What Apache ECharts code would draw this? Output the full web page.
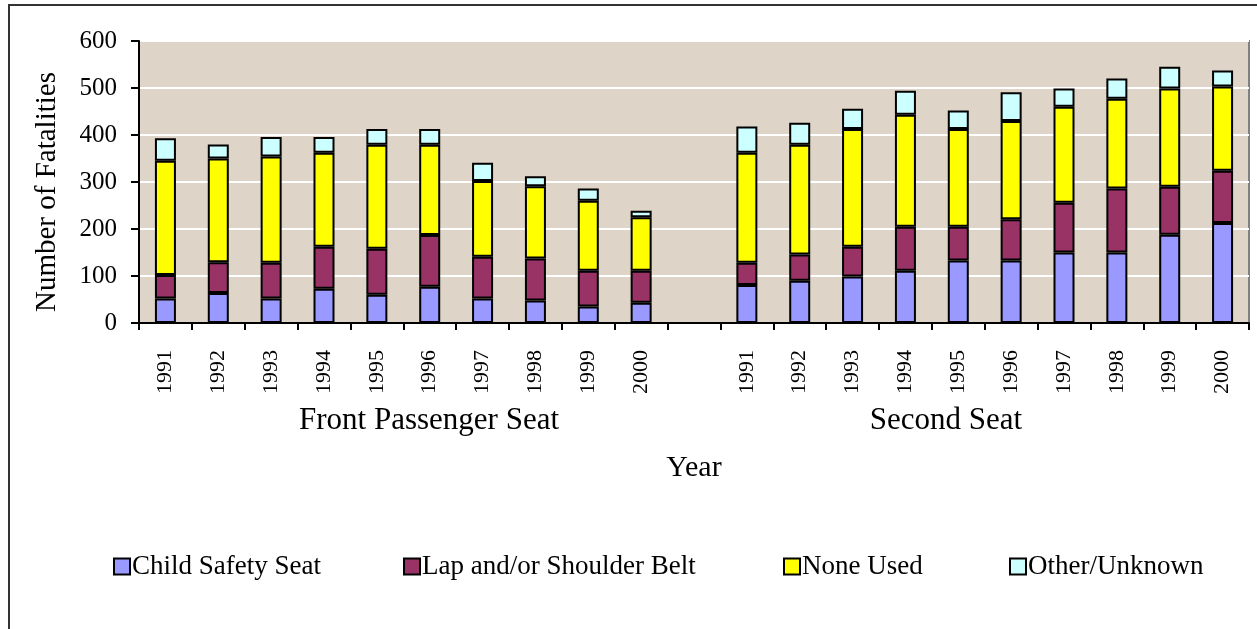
<!DOCTYPE html>
<html>
<head>
<meta charset="utf-8">
<script src="https://cdn.jsdelivr.net/npm/echarts@6/dist/echarts.min.js"></script>
<style>
  html, body { margin: 0; padding: 0; background: #fff; }
  #chart { width: 1257px; height: 629px; }
</style>
</head>
<body>
<div id="chart"></div>
<script>
  // years for each seat group
  var years = ['1991', '1992', '1993', '1994', '1995', '1996', '1997', '1998', '1999', '2000'];
  var groupNames = ['Front Passenger Seat', 'Second Seat'];
  var seriesNames = ['Child Safety Seat', 'Lap and/or Shoulder Belt', 'None Used', 'Other/Unknown'];

  // front passenger seat
  var childFront = [52, 64, 52, 73, 60, 77, 52, 48, 35, 43];
  var lapFront = [50, 65, 76, 89, 98, 110, 89, 89, 76, 68];
  var noneFront = [243, 221, 226, 200, 221, 192, 161, 154, 149, 114];
  var otherFront = [48, 30, 42, 34, 34, 34, 39, 21, 26, 14];

  // second seat
  var childSecond = [81, 90, 99, 111, 133, 133, 150, 150, 188, 213];
  var lapSecond = [47, 56, 63, 94, 72, 88, 106, 136, 102, 111];
  var noneSecond = [234, 233, 251, 238, 208, 209, 204, 191, 209, 179];
  var otherSecond = [56, 47, 43, 51, 39, 61, 39, 43, 46, 34];

  var yTicks = [0, 100, 200, 300, 400, 500, 600];

  var colors = ['#9999ff', '#993366', '#ffff00', '#ccffff'];
  var font = '"Liberation Serif", "Times New Roman", serif';

  // one empty slot between the two groups
  var categories = years.concat(['']).concat(years);
  function join(a, b) {
    return a.concat([null]).concat(b);
  }
  var stacks = [
    join(childFront, childSecond),
    join(lapFront, lapSecond),
    join(noneFront, noneSecond),
    join(otherFront, otherSecond)
  ];

  var chart = echarts.init(document.getElementById('chart'));

  var legendLeft = [108, 398, 778, 1004];

  chart.setOption({
    animation: false,
    backgroundColor: '#ffffff',
    textStyle: { fontFamily: font, color: '#000' },
    grid: {
      left: 139,
      top: 41,
      right: 8,
      bottom: 306,
      show: true,
      backgroundColor: '#ded5c8',
      borderColor: '#808080',
      borderWidth: 2
    },
    legend: seriesNames.map(function (name, i) {
      return {
        data: [name],
        left: legendLeft[i],
        top: 548,
        itemWidth: 16,
        itemHeight: 16,
        itemGap: 0,
        icon: 'rect',
        textStyle: { fontFamily: font, fontSize: 27, color: '#000', padding: [0, 0, 0, -3] },
        itemStyle: { borderColor: '#000', borderWidth: 2 }
      };
    }),
    xAxis: {
      type: 'category',
      data: categories,
      name: 'Year',
      nameLocation: 'middle',
      nameGap: 130,
      nameTextStyle: { fontFamily: font, fontSize: 30, color: '#000' },
      axisLine: { lineStyle: { color: '#000', width: 2 } },
      axisTick: { show: true, length: 7, lineStyle: { color: '#000', width: 2 } },
      axisLabel: {
        rotate: 90,
        margin: 27,
        fontFamily: font,
        fontSize: 22,
        color: '#000'
      }
    },
    yAxis: {
      type: 'value',
      min: yTicks[0],
      max: yTicks[yTicks.length - 1],
      interval: 100,
      axisLine: { show: true, lineStyle: { color: '#000', width: 2 } },
      axisTick: { show: true, length: 8, lineStyle: { color: '#000', width: 2 } },
      axisLabel: { margin: 22, fontFamily: font, fontSize: 25, color: '#000' },
      splitLine: { lineStyle: { color: '#ffffff', width: 2 } }
    },
    series: seriesNames.map(function (name, i) {
      return {
        name: name,
        type: 'bar',
        stack: 'total',
        barWidth: 21,
        data: stacks[i],
        itemStyle: { color: colors[i], borderColor: '#000', borderWidth: 2 }
      };
    }),
    graphic: [
      {
        type: 'rect',
        silent: true,
        shape: { x: 9, y: 5, width: 1400, height: 800 },
        style: { fill: null, stroke: '#333', lineWidth: 2 }
      },
      {
        type: 'text',
        x: 47,
        y: 192,
        rotation: Math.PI / 2,
        style: {
          text: 'Number of Fatalities',
          fontFamily: font,
          fontSize: 29,
          fill: '#000',
          textAlign: 'center',
          textVerticalAlign: 'middle'
        }
      },
      {
        type: 'text',
        x: 429,
        y: 421,
        style: {
          text: groupNames[0],
          fontFamily: font,
          fontSize: 31,
          fill: '#000',
          textAlign: 'center',
          textVerticalAlign: 'middle'
        }
      },
      {
        type: 'text',
        x: 946,
        y: 421,
        style: {
          text: groupNames[1],
          fontFamily: font,
          fontSize: 31,
          fill: '#000',
          textAlign: 'center',
          textVerticalAlign: 'middle'
        }
      }
    ]
  });
</script>
</body>
</html>
